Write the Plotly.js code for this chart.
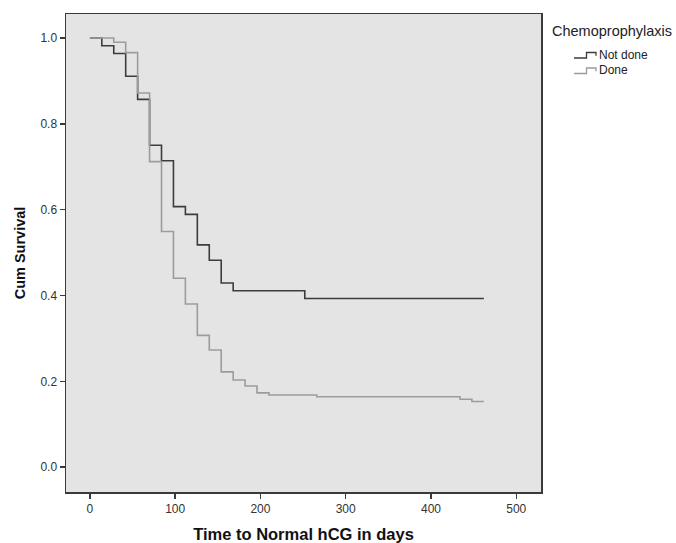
<!DOCTYPE html>
<html>
<head>
<meta charset="utf-8">
<script src="https://cdn.plot.ly/plotly-3.0.1.min.js"></script>
<style>html,body{margin:0;padding:0;background:#fff;}#chart{width:676px;height:543px;}</style>
</head>
<body>
<div id="chart"></div>
<script>
// Kaplan-Meier step data (time in days, cumulative survival)
const notDoneTime = [0, 14, 28, 42, 56, 70, 84, 98, 112, 126, 140, 154, 168, 252, 462];
const notDoneSurv = [1.0, 0.982, 0.964, 0.911, 0.857, 0.750, 0.714, 0.607, 0.589, 0.518, 0.482, 0.429, 0.411, 0.393, 0.393];
const doneTime = [0, 28, 42, 56, 70, 84, 98, 112, 126, 140, 154, 168, 182, 196, 210, 266, 434, 448, 462];
const doneSurv = [1.0, 0.990, 0.966, 0.872, 0.712, 0.549, 0.440, 0.380, 0.307, 0.273, 0.222, 0.203, 0.189, 0.173, 0.168, 0.164, 0.158, 0.153, 0.153];
const groupNames = ["Not done", "Done"];
const groupColors = ["#3c3c3c", "#9c9c9c"];
const legendTitle = "Chemoprophylaxis";
const xTicks = [0, 100, 200, 300, 400, 500];
const yTicks = [0.0, 0.2, 0.4, 0.6, 0.8, 1.0];

const traces = [
  {x: notDoneTime, y: notDoneSurv, name: groupNames[0], mode: "lines",
   line: {shape: "hv", color: groupColors[0], width: 1.6}},
  {x: doneTime, y: doneSurv, name: groupNames[1], mode: "lines",
   line: {shape: "hv", color: groupColors[1], width: 1.6}}
];

// plot-area geometry in pixels (for the custom legend placed in paper coordinates)
const W = 676, H = 543, M = {l: 66, r: 135, t: 14, b: 51};
const pw = W - M.l - M.r, ph = H - M.t - M.b;
const px = v => (v - M.l) / pw;
const py = v => (H - M.b - v) / ph;

const font = "Liberation Sans, Arial, sans-serif";
const annotations = [
  {xref: "paper", yref: "paper", x: px(550), y: py(31), xanchor: "left", yanchor: "middle",
   text: legendTitle, showarrow: false, font: {family: font, size: 14.5, color: "#222"}}
];
const shapes = [];
const rowY = [55, 70.5];
groupNames.forEach((name, i) => {
  const base = rowY[i] + 3;
  annotations.push({xref: "paper", yref: "paper", x: px(597), y: py(rowY[i]), xanchor: "left", yanchor: "middle",
    text: name, showarrow: false, font: {family: font, size: 12, color: "#222"}});
  const pts = [[574, base], [586.5, base], [586.5, base - 5.5], [596, base - 5.5], [596, base - 2.2]];
  const path = "M " + pts.map(p => px(p[0]).toFixed(4) + "," + py(p[1]).toFixed(4)).join(" L ");
  shapes.push({type: "path", xref: "paper", yref: "paper", path: path,
    line: {color: groupColors[i], width: 1.3}});
});

const layout = {
  width: W, height: H,
  margin: M,
  paper_bgcolor: "#ffffff",
  plot_bgcolor: "#e4e4e4",
  showlegend: false,
  annotations: annotations,
  shapes: shapes,
  xaxis: {
    range: [-28, 529], tickvals: xTicks, ticktext: xTicks.map(String),
    showgrid: false, zeroline: false,
    showline: true, mirror: true, linecolor: "#3a3a3a", linewidth: 1.5,
    ticks: "outside", ticklen: 5, tickcolor: "#3a3a3a", tickwidth: 1.5,
    tickfont: {family: font, size: 12, color: "#333"},
    title: {text: "<b>Time to Normal hCG in days</b>", font: {family: font, size: 16.5, color: "#111"}, standoff: 15}
  },
  yaxis: {
    range: [-0.058, 1.056], tickvals: yTicks, ticktext: yTicks.map(v => v.toFixed(1)),
    showgrid: false, zeroline: false,
    showline: true, mirror: true, linecolor: "#3a3a3a", linewidth: 1.5,
    ticks: "outside", ticklen: 5, tickcolor: "#3a3a3a", tickwidth: 1.5,
    tickfont: {family: font, size: 12, color: "#333"},
    title: {text: "<b>Cum Survival</b>", font: {family: font, size: 14.5, color: "#111"}, standoff: 11}
  }
};

Plotly.newPlot("chart", traces, layout, {staticPlot: true, displayModeBar: false});
</script>
</body>
</html>
